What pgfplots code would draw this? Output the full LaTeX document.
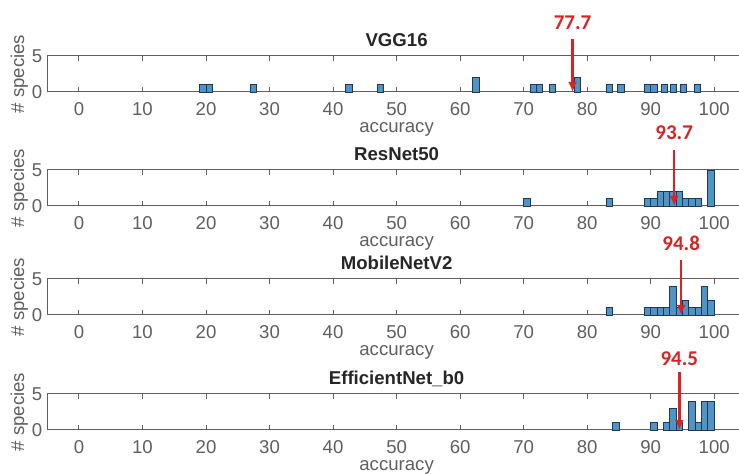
\documentclass[border=0pt]{standalone}
\usepackage{fontspec}
\setmainfont{Liberation Sans}
\newfontfamily\calib{Carlito}
\usepackage{pgfplots}
\pgfplotsset{compat=1.18}
\usetikzlibrary{arrows.meta}

\definecolor{barfill}{RGB}{80,148,198}
\definecolor{baredge}{RGB}{35,55,85}
\definecolor{axgray}{RGB}{95,95,95}
\definecolor{annred}{RGB}{215,35,35}

\pgfplotsset{
  every axis title/.style={at={(0.5,1)}, anchor=base, yshift=4.5pt, font=\bfseries\fontsize{9.3}{10}\selectfont, text=black!85},
  hist/.style={
    scale only axis, width=349.4pt, height=18pt,
    xmin=-5, xmax=105, ymin=0, ymax=5,
    xtick={0,10,...,100}, ytick={0,5},
    tick align=inside,
    major tick length=2.5pt,
    axis line style={axgray, line width=0.5pt},
    tick style={axgray, line width=0.5pt},
    ticklabel style={font=\fontsize{9.3}{10}\selectfont, text=axgray},
    xticklabel style={yshift=-1.5pt},
    yticklabel style={xshift=1pt},
    /pgf/number format/assume math mode=true,
    xlabel={accuracy}, ylabel={\# species},
    xlabel style={at={(axis description cs:0.5,0)}, anchor=base, yshift=-20.5pt, font=\fontsize{9.3}{10}\selectfont, text=axgray},
    ylabel style={at={(axis description cs:-0.04,0.5)}, anchor=center, font=\fontsize{9.3}{10}\selectfont, text=axgray},
    clip=false,
  },
  bars/.style={ybar, bar width=1, bar shift=0pt, fill=barfill, draw=baredge, line width=0.4pt},
}
\newcommand{\annot}[3]{%
  \draw[annred, line width=1.2pt, -{Latex[length=5pt,width=4.5pt]}] (axis cs:#1,#3) -- (axis cs:#1,0);
  \node[annred, font=\calib\bfseries\fontsize{10.5}{11}\selectfont] at (axis cs:#1,#2) {#1};
}

\begin{document}
\begin{tikzpicture}
\begin{axis}[hist, at={(23.6pt,-28pt)}, anchor=north west, title={VGG16}]
\addplot[bars] coordinates {(19.5,1)(20.5,1)(27.5,1)(42.5,1)(47.5,1)(62.5,2)(71.5,1)(72.5,1)(74.5,1)(78.5,2)(83.5,1)(85.3,1)(89.5,1)(90.5,1)(92.2,1)(93.6,1)(95.1,1)(97.3,1)};
\annot{77.7}{9.6}{7.4}
\end{axis}
\begin{axis}[hist, at={(23.6pt,-85pt)}, anchor=north west, title={ResNet50}]
\addplot[bars] coordinates {(70.5,1)(83.5,1)(89.5,1)(90.5,1)(91.5,2)(92.5,2)(93.5,2)(94.5,2)(95.5,1)(96.5,1)(97.5,1)(99.5,5)};
\annot{93.7}{10.2}{7.8}
\end{axis}
\begin{axis}[hist, at={(23.6pt,-139.5pt)}, anchor=north west, title={MobileNetV2}]
\addplot[bars] coordinates {(83.5,1)(89.5,1)(90.5,1)(91.5,1)(92.5,1)(93.5,4)(94.5,1)(95.5,2)(96.5,1)(97.5,1)(98.5,4)(99.5,2)};
\annot{94.8}{10}{7.6}
\end{axis}
\begin{axis}[hist, at={(23.6pt,-197pt)}, anchor=north west, title={EfficientNet\_b0}]
\addplot[bars] coordinates {(84.5,1)(90.5,1)(92.5,1)(93.5,3)(94.5,1)(96.5,4)(97.5,1)(98.5,4)(99.5,4)};
\annot{94.5}{9.9}{8.0}
\end{axis}
\pgfresetboundingbox
\useasboundingbox (0,0) rectangle (369.5pt,-237.5pt);
\end{tikzpicture}
\end{document}
